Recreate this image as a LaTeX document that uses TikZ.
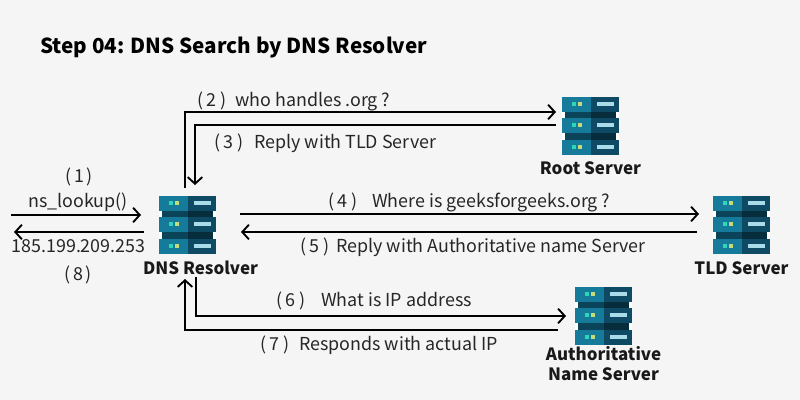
\documentclass[tikz,border=0pt]{standalone}
\usepackage{fontspec}
\setmainfont{Noto Sans CJK SC}
\usetikzlibrary{arrows.meta}
\definecolor{bgc}{HTML}{F5F5F5}
\definecolor{tealL}{HTML}{167A9B}
\definecolor{tealD}{HTML}{0E4A63}
\definecolor{bandL}{HTML}{0B4359}
\definecolor{bandD}{HTML}{072C3B}
\definecolor{dotG}{HTML}{2FD6B5}
\definecolor{dotY}{HTML}{C5DB78}
\definecolor{dashC}{HTML}{A9DCE8}
\newcommand{\steplab}[3]{\makebox[#2][l]{\makebox[22pt][s]{(\hfil #1\hfil)}}#3}
\tikzset{
  x=0.75pt,y=-0.75pt,
  conn/.style={draw=black,line width=1.5pt,-{Straight Barb[length=5pt,width=11pt,line width=1.4pt]}},
  lbl/.style={font=\fontsize{13.4pt}{15pt}\selectfont,text=black!85,inner sep=0pt,anchor=base},
  srv/.style={font=\fontsize{12.7pt}{14.8pt}\selectfont\bfseries,text=black!90,inner sep=0pt,align=center},
  iconbox/.style={minimum width=42.75pt,minimum height=42.75pt,inner sep=0pt},
  pics/server/.style={code={
    \fill[white] (-28.5,-14.5) rectangle (28.5,-7.5);
    \fill[white] (-28.5,7.5) rectangle (28.5,14.5);
    \fill[bandL] (-25.5,-15) rectangle (0,-7);
    \fill[bandD] (0,-15) rectangle (25.5,-7);
    \fill[bandL] (-25.5,7) rectangle (0,15);
    \fill[bandD] (0,7) rectangle (25.5,15);
    \foreach \yy in {-28.5,-7.5,14.5}{
      \fill[tealL] (-28.5,\yy) rectangle (0,\yy+14.5);
      \fill[tealD] (0,\yy) rectangle (28.5,\yy+14.5);
      \fill[dotG] (-19,\yy+5) rectangle (-15,\yy+9);
      \fill[dotY] (-13,\yy+5) rectangle (-9,\yy+9);
      \fill[dashC] (6.5,\yy+5) rectangle (23.5,\yy+9);
    }
  }}
}
\begin{document}
\begin{tikzpicture}
\useasboundingbox[fill=bgc] (0,0) rectangle (800,400);
\node[inner sep=0pt,anchor=base west,font=\fontsize{15.5pt}{18pt}\selectfont\bfseries] (title) at (40,53) {Step 04: DNS Search by DNS Resolver};
% servers
\node[iconbox] (dns) at (187.5,224.5) {};
\node[iconbox] (root) at (590.5,125.5) {};
\node[iconbox] (tld) at (741.5,224.5) {};
\node[iconbox] (auth) at (603.5,315.5) {};
\pic at (dns) {server};
\pic at (root) {server};
\pic at (tld) {server};
\pic at (auth) {server};
\node[srv] (dnsl) at (200.5,268) {DNS Resolver};
\node[srv] (rootl) at (590.5,168) {Root Server};
\node[srv] (tldl) at (741.5,268) {TLD Server};
\node[srv] (authl) at (603.5,363.5) {Authoritative\\Name Server};
% free ends
\coordinate (c1a) at (11,215); \coordinate (c1b) at (141,215);
\coordinate (c8a) at (144,232); \coordinate (c8b) at (14,232);
\coordinate (c2a) at (185,188); \coordinate (c2b) at (556,112);
\coordinate (c3a) at (556,125); \coordinate (c3b) at (195,185);
\coordinate (c4a) at (240,214); \coordinate (c4b) at (699,214);
\coordinate (c5a) at (697,232); \coordinate (c5b) at (241,232);
\coordinate (c6a) at (196,277); \coordinate (c6b) at (566,316);
\coordinate (c7a) at (558,330); \coordinate (c7b) at (185,279);
\draw[conn] (c1a) -- (c1b);
\draw[conn] (c8a) -- (c8b);
\draw[conn] (c2a) |- (c2b);
\draw[conn] (c3a) -| (c3b);
\draw[conn] (c4a) -- (c4b);
\draw[conn] (c5a) -- (c5b);
\draw[conn] (c6a) |- (c6b);
\draw[conn] (c7a) -| (c7b);
% labels
\node[lbl] (l1) at (79,182) {\makebox[21pt][s]{(\hfil 1\hfil)}};
\node[lbl] (l1b) at (78,207) {ns\_lookup()};
\node[lbl] (l8b) at (78.5,252) {185.199.209.253};
\node[lbl] (l8) at (78,280) {\makebox[21pt][s]{(\hfil 8\hfil)}};
\node[lbl,anchor=base west] (l2) at (197,106) {\steplab{2}{28.5pt}{who handles .org ?}};
\node[lbl,anchor=base west] (l3) at (214,148) {\steplab{3}{30pt}{Reply with TLD Server}};
\node[lbl,anchor=base west] (l4) at (328,207) {\steplab{4}{33pt}{Where is geeksforgeeks.org ?}};
\node[lbl,anchor=base west] (l5) at (300,252) {\steplab{5}{27pt}{Reply with Authoritative name Server}};
\node[lbl,anchor=base west] (l6) at (276,306) {\steplab{6}{33.75pt}{What is IP address}};
\node[lbl,anchor=base west] (l7) at (260,350) {\steplab{7}{29.25pt}{Responds with actual IP}};
\end{tikzpicture}
\end{document}
